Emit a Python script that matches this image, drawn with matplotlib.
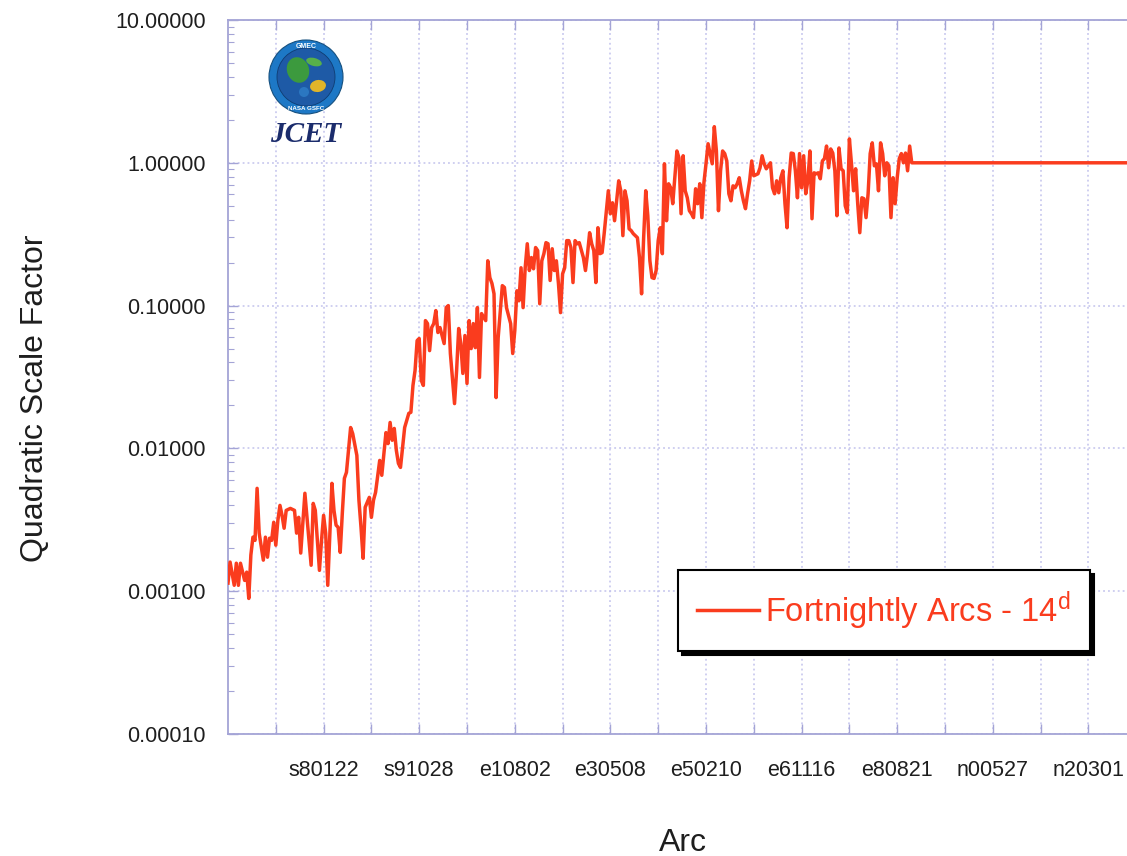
import matplotlib
matplotlib.use("Agg")
import matplotlib.pyplot as plt
import numpy as np
from matplotlib.ticker import LogLocator, NullFormatter, FuncFormatter
from matplotlib.patches import Circle, Ellipse

plt.rcParams['font.family'] = ['Liberation Sans', 'DejaVu Sans']
plt.rcParams['mathtext.default'] = 'regular'

# Fortnightly arc number (0 = first arc) and estimated quadratic scale factor
arc = [0, 1, 3, 4, 5, 6, 8, 9, 10, 11, 12, 13, 14, 15, 17, 18, 19, 20, 21, 22,
       23, 24, 25, 26, 27, 28, 30, 32, 33, 34, 35, 37, 38, 40, 41, 42, 44, 45, 46, 47,
       48, 50, 51, 52, 53, 54, 55, 56, 57, 59, 60, 62, 63, 64, 65, 66, 68, 69, 70, 71,
       73, 74, 76, 77, 78, 79, 80, 81, 82, 83, 85, 86, 87, 88, 89, 90, 91, 92, 93, 94,
       95, 96, 97, 98, 99, 100, 101, 102, 104, 105, 106, 107, 109, 110, 111, 112, 113, 114, 115, 116,
       117, 118, 119, 120, 121, 122, 124, 125, 126, 127, 128, 129, 130, 132, 133, 134, 136, 137, 138, 139,
       140, 141, 142, 143, 144, 145, 146, 147, 148, 149, 150, 151, 152, 153, 154, 155, 156, 157, 158, 159,
       160, 161, 162, 163, 164, 165, 166, 167, 168, 169, 171, 172, 173, 174, 175, 176, 177, 178, 179, 180,
       181, 183, 184, 185, 186, 187, 188, 189, 190, 191, 192, 193, 194, 195, 197, 198, 199, 200, 201, 202,
       203, 204, 205, 206, 207, 208, 209, 210, 211, 212, 213, 214, 215, 216, 217, 218, 219, 220, 221, 222,
       223, 224, 225, 226, 227, 228, 229, 230, 231, 232, 233, 234, 235, 236, 237, 238, 239, 240, 241, 242,
       243, 244, 245, 246, 247, 248, 249, 250, 251, 252, 253, 255, 256, 257, 258, 259, 261, 262, 263, 264,
       265, 266, 267, 268, 269, 270, 271, 272, 273, 274, 275, 276, 277, 278, 279, 280, 281, 282, 283, 284,
       285, 286, 287, 288, 289, 290, 291, 292, 293, 294, 295, 296, 297, 298, 299, 300, 301, 302, 303, 304,
       305, 306, 307, 308, 309, 310, 311, 312, 313, 314, 315, 316, 317, 318, 319, 320, 321, 322, 323, 324,
       325, 326, 327, 328, 329, 460]

qsf = [1.14e-3, 1.60e-3, 1.10e-3, 1.57e-3, 1.10e-3, 1.57e-3, 1.19e-3, 1.36e-3, 0.89e-3, 1.79e-3,
       2.39e-3, 2.27e-3, 5.25e-3, 2.55e-3, 1.65e-3, 2.39e-3, 1.73e-3, 2.35e-3, 2.27e-3, 3.04e-3,
       2.10e-3, 3.14e-3, 3.99e-3, 3.40e-3, 2.76e-3, 3.68e-3, 3.80e-3, 3.68e-3, 2.55e-3, 3.29e-3,
       1.85e-3, 4.85e-3, 3.29e-3, 1.52e-3, 4.12e-3, 3.68e-3, 1.40e-3, 2.27e-3, 3.40e-3, 2.55e-3,
       1.10e-3, 5.69e-3, 3.68e-3, 2.90e-3, 2.80e-3, 1.87e-3, 3.51e-3, 6.17e-3, 6.80e-3, 1.40e-2,
       1.27e-2, 8.93e-3, 4.33e-3, 2.80e-3, 1.70e-3, 3.87e-3, 4.54e-3, 3.29e-3, 4.33e-3, 4.92e-3,
       8.24e-3, 6.48e-3, 1.29e-2, 1.08e-2, 1.52e-2, 1.14e-2, 1.38e-2, 9.69e-3, 7.85e-3, 7.36e-3,
       1.40e-2, 1.57e-2, 1.76e-2, 1.79e-2, 2.76e-2, 3.51e-2, 5.69e-2, 5.88e-2, 2.99e-2, 2.76e-2,
       7.85e-2, 7.48e-2, 4.84e-2, 7.02e-2, 7.48e-2, 9.23e-2, 6.48e-2, 7.02e-2, 5.42e-2, 9.68e-2,
       0.100, 4.62e-2, 2.06e-2, 3.51e-2, 6.91e-2, 5.42e-2, 3.35e-2, 6.17e-2, 2.85e-2, 7.85e-2,
       5.00e-2, 7.48e-2, 5.08e-2, 9.68e-2, 3.14e-2, 8.79e-2, 7.85e-2, 0.206, 0.157, 0.143,
       0.121, 2.27e-2, 5.97e-2, 0.138, 0.134, 9.68e-2, 7.48e-2, 4.62e-2, 6.69e-2, 0.127,
       0.108, 0.184, 9.68e-2, 0.184, 0.271, 0.176, 0.217, 0.181, 0.255, 0.243,
       0.103, 0.206, 0.231, 0.276, 0.271, 0.150, 0.250, 0.176, 0.206, 0.143,
       8.93e-2, 0.167, 0.184, 0.285, 0.285, 0.255, 0.145, 0.285, 0.271, 0.276,
       0.217, 0.176, 0.231, 0.324, 0.271, 0.243, 0.145, 0.351, 0.231, 0.235,
       0.319, 0.637, 0.440, 0.525, 0.393, 0.542, 0.748, 0.637, 0.309, 0.637,
       0.542, 0.345, 0.335, 0.319, 0.299, 0.217, 0.121, 0.300, 0.637, 0.426,
       0.206, 0.157, 0.155, 0.176, 0.285, 0.351, 0.231, 0.984, 0.393, 0.713,
       0.669, 0.517, 0.786, 1.21, 1.08, 0.440, 1.12, 0.637, 0.569, 0.462,
       0.440, 0.413, 0.658, 0.517, 0.713, 0.413, 0.725, 0.984, 1.36, 1.16,
       0.984, 1.79, 1.21, 0.462, 0.879, 1.21, 1.16, 1.03, 0.607, 0.542,
       0.690, 0.669, 0.713, 0.786, 0.637, 0.542, 0.477, 0.607, 0.748, 1.03,
       0.811, 0.838, 0.923, 1.12, 0.984, 0.908, 1.00, 0.669, 0.607, 0.748,
       0.617, 0.786, 0.879, 0.517, 0.351, 0.786, 1.17, 1.16, 0.880, 0.569,
       1.16, 0.669, 1.12, 0.607, 0.748, 1.21, 0.406, 0.851, 0.838, 0.851,
       0.773, 1.03, 1.07, 1.31, 0.923, 1.25, 1.17, 0.879, 0.426, 1.27,
       0.908, 0.879, 0.500, 0.447, 1.47, 0.984, 0.637, 0.908, 0.517, 0.324,
       0.569, 0.560, 0.413, 0.607, 1.16, 1.38, 0.953, 0.984, 0.637, 1.38,
       1.16, 0.811, 1.00, 0.953, 0.413, 0.786, 0.517, 0.786, 1.07, 1.16,
       1.00, 1.17, 0.879, 1.31, 1.00, 1.00]

# Labelled arcs (every 46th fortnightly arc) and their names
label_arcs = [46, 92, 138, 184, 230, 276, 322, 368, 414]
arc_names = ["s80122", "s91028", "e10802", "e30508", "e50210",
             "e61116", "e80821", "n00527", "n20301"]
grid_arcs = [23, 69, 115, 161, 207, 253, 299, 345, 391, 437]

RED = '#fa3c1e'
FRAME = '#a4a4d6'
GRID = '#c2c2ec'
TXT = '#1e1e1e'

W, H = 1127, 856
fig = plt.figure(figsize=(W / 100, H / 100), dpi=100)
fig.patch.set_facecolor('white')

# axes: left edge at 228 px, decades 143 px apart, extends past the right edge
ax = fig.add_axes([228 / W, 122 / H, 956 / W, 714 / H])
ax.plot(arc, qsf, color=RED, lw=2.5, solid_joinstyle='round',
        label="Fortnightly Arcs - 14$^{d}$", zorder=3)

ax.set_yscale('log')
ax.set_ylim(1e-4, 10)
ax.set_xlim(0, 460)

ax.yaxis.set_major_locator(LogLocator(base=10, numticks=10))
ax.yaxis.set_major_formatter(FuncFormatter(lambda v, p: f"{v:.5f}"))
ax.yaxis.set_minor_locator(LogLocator(base=10, subs=np.arange(2, 10), numticks=20))
ax.yaxis.set_minor_formatter(NullFormatter())

ax.set_xticks(label_arcs)
ax.set_xticklabels(arc_names)
ax.set_xticks(grid_arcs, minor=True)

ax.grid(True, which='major', axis='y', ls=(0, (1.2, 2.0)), color=GRID, lw=1.1)
ax.grid(True, which='both', axis='x', ls=(0, (1.2, 2.0)), color=GRID, lw=1.1)
ax.set_axisbelow(True)

for side in ('left', 'top', 'bottom'):
    ax.spines[side].set_color(FRAME)
    ax.spines[side].set_linewidth(1.3)
ax.spines['right'].set_visible(False)

ax.tick_params(which='both', direction='in', color=FRAME, top=True, bottom=True,
               left=True, right=False, labelcolor=TXT)
ax.tick_params(axis='y', which='major', length=7, width=1, labelsize=15.5, pad=16)
ax.tick_params(axis='y', which='minor', length=4, width=0.8)
ax.tick_params(axis='x', which='both', length=7, width=1, labelsize=15.5, pad=19)

ax.set_xlabel('Arc', fontsize=23, color=TXT)
ax.xaxis.set_label_coords((683 - 228) / 956, (734 - 843) / 714)
ax.xaxis.label.set_va('center')
ax.set_ylabel('Quadratic Scale Factor', fontsize=23, color=TXT)
ax.yaxis.set_label_coords((35 - 228) / 956, (734 - 398) / 714)
ax.yaxis.label.set_va('center')

leg = ax.legend(loc='upper left', bbox_to_anchor=(678 / W, 1 - 570 / H),
                bbox_transform=fig.transFigure, borderaxespad=0,
                frameon=True, fancybox=False, edgecolor='black', framealpha=1,
                fontsize=23.5, handlelength=1.9, handletextpad=0.2, borderpad=0.58,
                labelcolor=RED,
                shadow={'ox': 2.8, 'oy': -2.8, 'color': 'black', 'alpha': 1})
leg.get_frame().set_linewidth(1.5)

# JCET / GMEC emblem
lg = fig.add_axes([258 / W, 1 - 160 / H, 96 / W, 125 / H])
lg.set_xlim(0, 96)
lg.set_ylim(0, 125)
lg.set_aspect('equal')
lg.axis('off')
lg.add_patch(Circle((48, 83), 37, facecolor='#1d78c6', edgecolor='#16507f', lw=0.8))
lg.add_patch(Circle((48, 83), 29, facecolor='#1e5aa6', edgecolor='#0f3c72', lw=0.6))
lg.add_patch(Ellipse((40, 90), 22, 26, angle=20, facecolor='#3c9a3e', edgecolor='none'))
lg.add_patch(Ellipse((56, 98), 16, 8, angle=-15, facecolor='#58b04a', edgecolor='none'))
lg.add_patch(Ellipse((60, 74), 16, 12, angle=10, facecolor='#e0b52a', edgecolor='none'))
lg.add_patch(Ellipse((46, 68), 10, 10, facecolor='#2f7fc8', edgecolor='none', alpha=0.8))
lg.text(48, 114, 'GMEC', ha='center', va='center', fontsize=5, color='white',
        fontweight='bold')
lg.text(48, 52, 'NASA GSFC', ha='center', va='center', fontsize=4.5, color='white',
        fontweight='bold')
lg.text(48, 26, 'JCET', ha='center', va='center', fontsize=21, color='#1b2c6c',
        fontweight='bold', style='italic', family='Liberation Serif')

fig.savefig('out.png', dpi=100, facecolor='white')
